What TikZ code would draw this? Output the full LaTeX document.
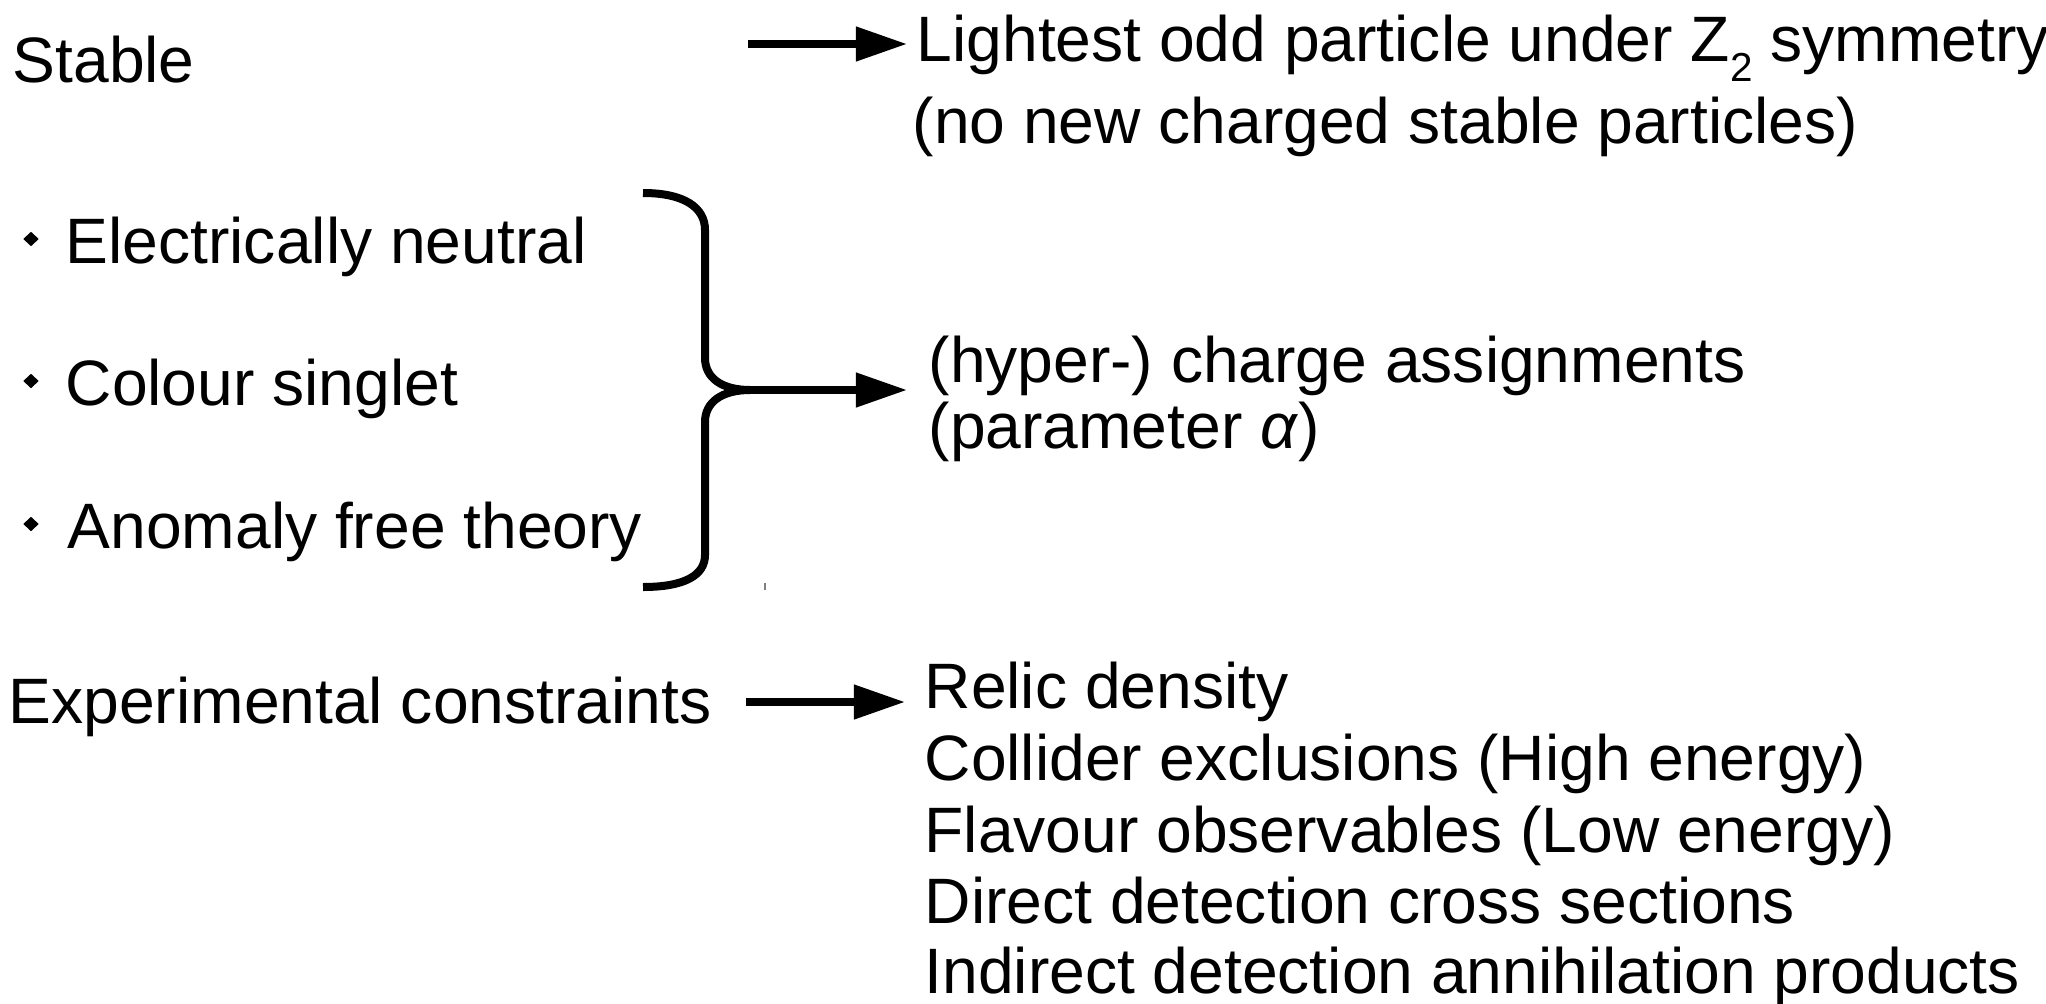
\documentclass[tikz,border=0pt]{standalone}
\usepackage{fontspec}
\setmainfont{Liberation Sans}
\usetikzlibrary{arrows.meta,shapes.geometric}
\tikzset{
  txt/.style={anchor=base west, inner sep=0pt, font=\fontsize{18.25}{22}\selectfont},
  arr/.style={line width=0.075cm, -{Triangle[length=0.51cm,width=0.33cm]}},
  bracestyle/.style={line width=0.08cm},
  bulletmark/.style={shape=diamond, fill=black, inner sep=0pt, minimum width=0.16cm, minimum height=0.15cm}
}
\begin{document}
\begin{tikzpicture}[x=0.01cm,y=-0.01cm]
\useasboundingbox (0,0) rectangle (2046,1003);

% top block
\node[txt] (stable) at (12,82) {Stable};
\node[txt] (lightest) at (916,61) {Lightest odd particle under Z\raisebox{-5.7pt}{\fontsize{11.5}{12}\selectfont 2} symmetry};
\node[txt] (nonew) at (912,143) {(no new charged stable particles)};
\coordinate (a1s) at (748,44);
\coordinate (a1e) at (907,44);
\draw[arr] (a1s) -- (a1e);

% bullets
\node[bulletmark] (b1) at (31,239) {};
\node[bulletmark] (b2) at (31,381) {};
\node[bulletmark] (b3) at (31,524) {};
\node[txt] (elec) at (65,263) {Electrically neutral};
\node[txt] (colour) at (65,405) {Colour singlet};
\node[txt] (anomaly) at (67,548) {Anomaly free theory};

% brace
\coordinate (btop) at (643,193);
\coordinate (bmid) at (750,390);
\coordinate (bbot) at (643,587);
\draw[bracestyle] (btop) .. controls (685,193) and (705,208) .. (705,230)
  -- (705,358) .. controls (705,378) and (722,390) .. (bmid);
\draw[bracestyle] (bmid) .. controls (722,390) and (705,402) .. (705,422)
  -- (705,555) .. controls (705,575) and (685,587) .. (bbot);
\coordinate (a2e) at (907,390);
\draw[arr] (bmid) -- (a2e);
\coordinate (tick1) at (765,583);
\coordinate (tick2) at (765,590);
\draw[gray, line width=0.015cm] (tick1) -- (tick2);

\node[txt] (hyper) at (928,382) {(hyper-) charge assignments};
\node[txt] (param) at (928,448) {(parameter \textit{α})};

% experimental block
\node[txt] (exp) at (8,723) {Experimental constraints};
\coordinate (a3s) at (746,702);
\coordinate (a3e) at (905,702);
\draw[arr] (a3s) -- (a3e);
\node[txt] (relic) at (924,708) {Relic density};
\node[txt] (collider) at (924,780) {Collider exclusions (High energy)};
\node[txt] (flavour) at (924,852) {Flavour observables (Low energy)};
\node[txt] (direct) at (924,923) {Direct detection cross sections};
\node[txt] (indirect) at (924,993) {Indirect detection annihilation products};
\end{tikzpicture}
\end{document}
